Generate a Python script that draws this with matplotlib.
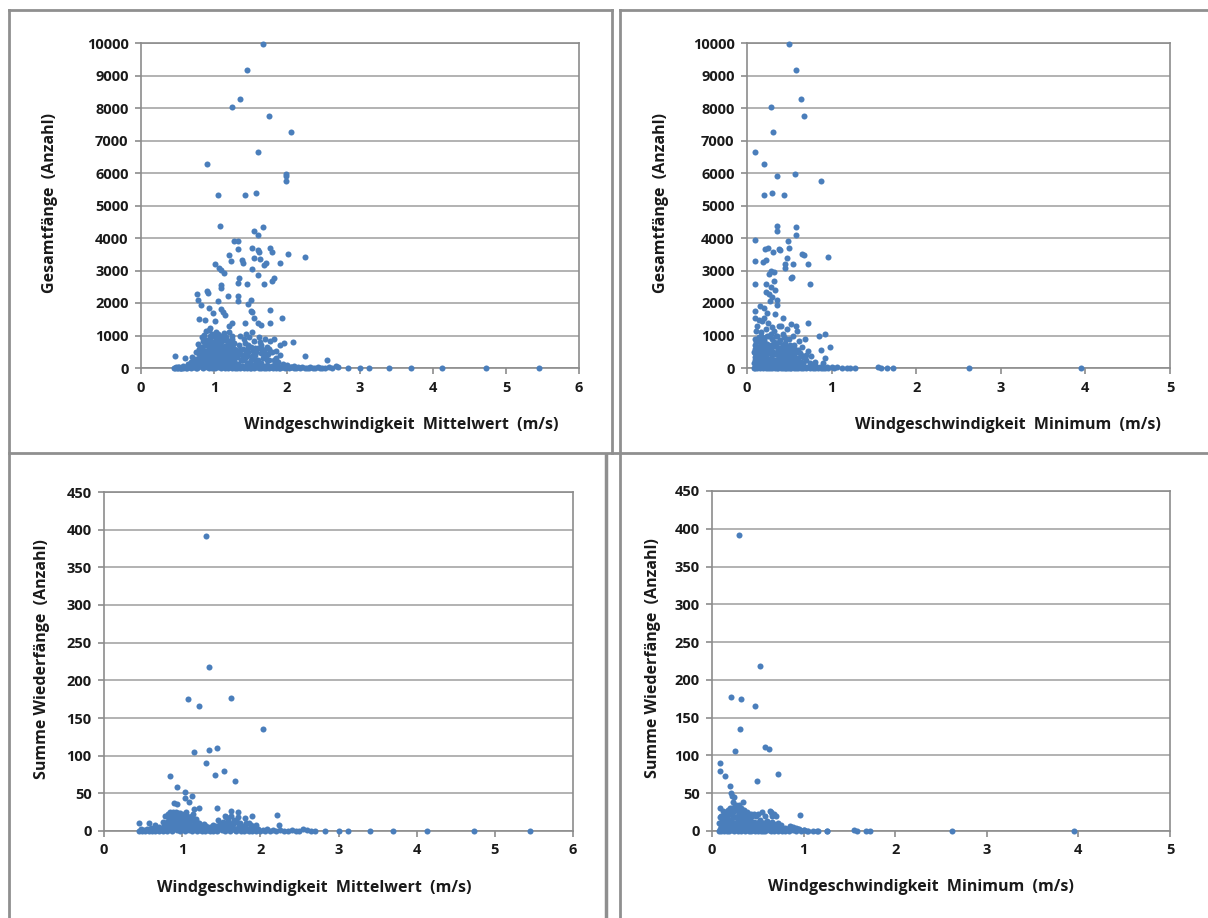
import matplotlib
matplotlib.use("Agg")
import matplotlib.pyplot as plt
from matplotlib.lines import Line2D

plt.rcParams['font.family'] = ['Open Sans', 'DejaVu Sans']
plt.rcParams['font.weight'] = 'bold'

# --- data (x, y) ---
# mean wind speed vs. total catches
mean_vs_total = [
    (1.67, 9980), (1.45, 9180), (1.35, 8280), (1.25, 8020), (1.75, 7760), (2.05, 7250),
    (1.60, 6660), (0.90, 6270), (1.98, 5980), (1.99, 5900), (1.99, 5750), (1.05, 5320),
    (1.43, 5320), (1.58, 5380), (1.08, 4380), (1.67, 4330), (1.55, 4220), (1.60, 4080),
    (1.27, 3910), (1.33, 3920), (1.33, 3650), (1.52, 3700), (1.60, 3640), (1.61, 3560),
    (1.77, 3680), (1.79, 3560), (2.02, 3520), (2.25, 3420), (1.20, 3480), (1.38, 3320),
    (1.40, 3230), (1.55, 3380), (1.63, 3350), (1.68, 3170), (1.71, 3230), (1.90, 3220),
    (1.02, 3200), (1.07, 3080), (1.10, 3020), (1.14, 2920), (1.52, 3060), (1.23, 3280),
    (1.34, 2760), (1.33, 2620), (1.45, 2580), (1.09, 2550), (1.10, 2450), (1.60, 2850),
    (1.68, 2580), (1.80, 2680), (1.82, 2760), (0.77, 2270), (0.78, 2080), (0.91, 2380),
    (0.92, 2320), (0.82, 1930), (1.05, 2060), (1.19, 2230), (1.33, 2230), (1.33, 2060),
    (1.46, 1960), (1.50, 2100), (1.09, 1820), (1.13, 1720), (1.15, 1640), (0.93, 1850),
    (0.98, 1680), (1.50, 1760), (1.52, 1710), (1.55, 1550), (1.60, 1370), (1.77, 1780),
    (1.77, 1380), (1.93, 1550), (0.80, 1520), (0.87, 1480), (1.25, 1380), (1.02, 1460),
    (1.42, 1380), (1.65, 1310), (1.20, 1300), (0.95, 1240),
    (0.47, 370), (0.48, 20), (0.50, 10), (0.52, 40), (0.55, 5), (0.58, 60), (0.60, 310),
    (0.62, 30), (0.64, 120), (0.66, 80), (0.68, 200), (0.70, 350), (0.72, 150), (0.74, 60),
    (0.75, 480), (0.76, 280), (0.78, 750), (0.80, 600), (0.81, 180), (0.83, 950), (0.84, 420),
    (0.86, 1020), (0.87, 700), (0.88, 300), (0.89, 1150), (0.90, 850), (0.91, 520), (0.92, 100),
    (0.93, 1180), (0.94, 650), (0.95, 880), (0.96, 400), (0.97, 1050), (0.98, 760), (0.99, 220),
    (1.00, 560), (1.00, 980), (1.01, 340), (1.02, 820), (1.03, 1100), (1.04, 620), (1.05, 450),
    (1.06, 900), (1.07, 150), (1.08, 720), (1.09, 1000), (1.10, 380), (1.11, 560), (1.12, 860),
    (1.13, 250), (1.14, 1080), (1.15, 680), (1.16, 470), (1.17, 950), (1.18, 130), (1.19, 780),
    (1.20, 560), (1.21, 1100), (1.22, 320), (1.23, 640), (1.24, 900), (1.25, 200), (1.26, 470),
    (1.27, 780), (1.28, 90), (1.30, 560), (1.31, 350), (1.33, 120), (1.34, 700), (1.35, 420),
    (1.36, 980), (1.37, 240), (1.38, 60), (1.40, 600), (1.41, 880), (1.42, 320), (1.44, 1050),
    (1.45, 150), (1.46, 720), (1.47, 480), (1.48, 950), (1.50, 250), (1.51, 660), (1.52, 1100),
    (1.53, 80), (1.55, 840), (1.56, 400), (1.58, 180), (1.60, 620), (1.62, 960), (1.63, 60),
    (1.65, 700), (1.67, 300), (1.68, 520), (1.70, 880), (1.72, 100), (1.73, 640), (1.75, 260),
    (1.77, 820), (1.78, 40), (1.80, 480), (1.82, 880), (1.84, 150), (1.85, 520), (1.87, 60),
    (1.90, 720), (1.93, 30), (1.96, 760), (2.00, 80), (2.02, 40), (2.05, 20), (2.08, 790),
    (2.10, 60), (2.15, 30), (2.20, 20), (2.25, 380), (2.28, 10), (2.32, 30), (2.38, 10),
    (2.42, 20), (2.48, 5), (2.55, 250), (2.58, 40), (2.62, 10), (2.67, 60), (2.70, 20),
    (2.83, 0), (3.00, 0), (3.12, 0), (3.40, 0), (3.70, 0), (4.13, 0), (4.73, 0), (5.45, 0),
    (0.45, 0), (0.47, 10), (0.49, 0), (0.51, 30), (0.53, 0), (0.55, 15), (0.57, 0), (0.59, 40),
    (0.61, 5), (0.63, 0), (0.65, 20), (0.67, 60), (0.69, 0), (0.71, 30), (0.73, 90), (0.75, 10),
    (0.77, 0), (0.79, 50), (0.81, 120), (0.83, 20), (0.85, 0), (0.87, 70), (0.89, 140), (0.91, 30),
    (0.93, 0), (0.95, 90), (0.97, 10), (0.99, 60), (1.01, 0), (1.03, 130), (1.05, 20), (1.07, 80),
    (1.09, 0), (1.11, 40), (1.13, 110), (1.15, 10), (1.17, 60), (1.19, 0), (1.21, 30), (1.23, 90),
    (1.25, 0), (1.27, 50), (1.29, 10), (1.31, 0), (1.33, 40), (1.35, 0), (1.37, 20), (1.39, 70),
    (1.41, 0), (1.43, 30), (1.45, 0), (1.47, 60), (1.49, 10), (1.51, 0), (1.53, 40), (1.55, 0),
    (1.57, 20), (1.59, 80), (1.61, 0), (1.63, 30), (1.65, 0), (1.67, 50), (1.69, 10), (1.71, 0),
    (1.73, 30), (1.75, 0), (1.77, 20), (1.79, 60), (1.81, 0), (1.83, 20), (1.85, 0), (1.87, 30),
    (1.89, 0), (1.91, 10), (1.94, 40), (1.97, 0), (2.00, 20), (2.03, 0), (2.06, 30), (2.09, 0),
    (2.12, 10), (2.18, 0), (2.24, 10), (2.30, 0), (2.35, 5), (2.45, 0), (2.52, 5),
    (0.82, 350), (0.84, 650), (0.86, 250), (0.88, 520), (0.90, 180), (0.92, 780), (0.94, 330),
    (0.96, 560), (0.98, 120), (1.00, 410), (1.02, 250), (1.04, 880), (1.06, 300), (1.08, 520),
    (1.10, 200), (1.12, 640), (1.14, 380), (1.16, 260), (1.18, 560), (1.20, 180), (1.22, 440),
    (1.24, 700), (1.26, 330), (1.28, 600), (0.85, 820), (0.95, 970), (1.05, 760), (1.15, 850),
    (1.25, 1000), (0.91, 450), (1.01, 680), (1.11, 150), (1.21, 820), (0.87, 160), (0.97, 250),
    (1.07, 430), (1.17, 320), (1.27, 220), (1.35, 560), (1.45, 380), (1.55, 300), (1.65, 450),
    (1.75, 580), (1.85, 320), (1.43, 760), (1.53, 520), (1.63, 800), (1.71, 380),
    (0.78, 100), (0.80, 300), (0.82, 550), (0.84, 200), (0.86, 400), (0.88, 700), (0.90, 50),
    (0.92, 280), (0.94, 480), (0.96, 150), (0.98, 380), (1.00, 700), (1.02, 100), (1.04, 300),
    (1.06, 580), (1.08, 250), (1.10, 800), (1.12, 420), (1.14, 120), (1.16, 620), (1.18, 350),
    (1.20, 720), (1.22, 50), (1.24, 380), (1.26, 620), (1.28, 300), (1.30, 120), (1.32, 480),
    (0.83, 80), (0.89, 420), (0.93, 620), (0.99, 480), (1.03, 200), (1.09, 380), (1.13, 520),
    (1.19, 300), (1.23, 150), (1.29, 420), (0.86, 900), (0.96, 780), (1.06, 1050), (1.16, 380),
    (0.79, 420), (0.76, 180), (0.72, 260), (1.40, 250), (1.44, 500), (1.48, 150), (1.52, 380),
    (1.56, 620), (1.60, 250), (1.64, 150), (1.68, 380), (1.72, 260), (1.38, 400), (1.46, 620),
    (1.58, 480), (1.66, 580), (1.74, 420), (1.82, 250), (1.88, 180), (1.95, 120), (1.90, 400),
]

# minimum wind speed vs. total catches
min_vs_total = [
    (0.50, 9980), (0.58, 9180), (0.64, 8280), (0.28, 8020), (0.67, 7760), (0.31, 7250),
    (0.09, 6660), (0.20, 6270), (0.35, 5900), (0.57, 5980), (0.87, 5750), (0.20, 5320),
    (0.29, 5380), (0.44, 5320), (0.36, 4380), (0.36, 4220), (0.58, 4330), (0.58, 4080),
    (0.09, 3930), (0.48, 3910), (0.25, 3680), (0.21, 3670), (0.38, 3650), (0.39, 3620),
    (0.50, 3700), (0.31, 3560), (0.65, 3510), (0.67, 3480), (0.96, 3420), (0.10, 3300),
    (0.22, 3330), (0.19, 3250), (0.47, 3380), (0.45, 3200), (0.54, 3200), (0.45, 3080),
    (0.72, 3210), (0.28, 3000), (0.32, 2950), (0.26, 2880), (0.53, 2800), (0.52, 2760),
    (0.32, 2680), (0.23, 2600), (0.09, 2580), (0.75, 2580), (0.28, 2480), (0.33, 2400),
    (0.22, 2350), (0.26, 2280), (0.30, 2200), (0.36, 2100), (0.27, 2050), (0.15, 1920),
    (0.20, 1850), (0.35, 1950), (0.10, 1750), (0.24, 1700), (0.33, 1650), (0.42, 1550),
    (0.09, 1550), (0.14, 1480), (0.72, 1400), (0.52, 1350), (0.58, 1300), (0.40, 1280),
    (0.85, 1000), (0.92, 1050), (0.98, 640), (0.88, 560), (0.92, 300), (0.90, 150), (0.80, 100),
    (0.12, 1300), (0.18, 1450), (0.25, 1380), (0.30, 1250), (0.11, 1150), (0.16, 1000),
    (0.38, 1300), (0.47, 1200), (0.20, 1550),
    (0.09, 250), (0.09, 450), (0.10, 600), (0.10, 350), (0.11, 800), (0.12, 200), (0.13, 500),
    (0.14, 950), (0.15, 300), (0.16, 700), (0.17, 1100), (0.18, 450), (0.19, 250), (0.20, 850),
    (0.21, 600), (0.22, 1200), (0.23, 350), (0.24, 750), (0.25, 200), (0.26, 1000), (0.27, 520),
    (0.28, 300), (0.29, 880), (0.30, 650), (0.31, 180), (0.32, 1150), (0.33, 420), (0.34, 760),
    (0.35, 250), (0.36, 980), (0.37, 560), (0.38, 320), (0.39, 860), (0.40, 200), (0.41, 640),
    (0.42, 1050), (0.43, 400), (0.44, 260), (0.45, 780), (0.46, 900), (0.47, 300), (0.48, 560),
    (0.49, 180), (0.50, 880), (0.51, 420), (0.52, 650), (0.53, 250), (0.54, 1000), (0.55, 350),
    (0.56, 720), (0.57, 180), (0.58, 560), (0.59, 1150), (0.60, 300), (0.62, 820), (0.63, 450),
    (0.64, 200), (0.65, 650), (0.66, 350), (0.68, 900), (0.70, 250), (0.72, 520), (0.74, 150),
    (0.76, 380), (0.78, 80), (0.80, 200),
    (0.08, 0), (0.09, 40), (0.10, 10), (0.11, 80), (0.12, 0), (0.13, 30), (0.14, 120), (0.15, 0),
    (0.16, 60), (0.17, 20), (0.18, 150), (0.19, 0), (0.20, 50), (0.21, 100), (0.22, 0), (0.23, 30),
    (0.24, 80), (0.25, 10), (0.26, 140), (0.27, 0), (0.28, 40), (0.29, 90), (0.30, 0), (0.31, 20),
    (0.32, 110), (0.33, 0), (0.34, 50), (0.35, 10), (0.36, 130), (0.37, 0), (0.38, 60), (0.39, 20),
    (0.40, 0), (0.41, 90), (0.42, 30), (0.43, 0), (0.44, 70), (0.45, 10), (0.46, 0), (0.47, 120),
    (0.48, 40), (0.49, 0), (0.50, 60), (0.51, 10), (0.52, 0), (0.53, 80), (0.54, 20), (0.55, 0),
    (0.56, 50), (0.57, 100), (0.58, 0), (0.59, 30), (0.60, 0), (0.62, 60), (0.64, 10), (0.66, 0),
    (0.68, 40), (0.70, 0), (0.72, 20), (0.74, 0), (0.76, 30), (0.78, 0), (0.80, 10), (0.82, 40),
    (0.84, 0), (0.86, 20), (0.88, 0), (0.90, 10), (0.92, 0), (0.94, 20), (0.96, 0), (1.00, 40),
    (1.03, 10), (1.06, 30), (1.12, 10), (1.18, 0), (1.22, 10), (1.28, 0),
    (1.55, 40), (1.58, 10), (1.65, 10), (1.72, 10), (2.62, 0), (3.95, 0),
    (0.08, 150), (0.09, 700), (0.10, 900), (0.11, 450), (0.12, 650), (0.13, 250), (0.14, 400),
    (0.15, 800), (0.16, 150), (0.17, 550), (0.18, 300), (0.19, 700), (0.20, 400), (0.21, 200),
    (0.22, 750), (0.23, 550), (0.24, 150), (0.25, 450), (0.26, 650), (0.27, 250), (0.28, 700),
    (0.29, 400), (0.30, 150), (0.31, 500), (0.32, 800), (0.33, 250), (0.34, 450), (0.35, 650),
    (0.36, 150), (0.37, 400), (0.38, 800), (0.39, 250), (0.40, 500), (0.41, 300), (0.42, 700),
    (0.43, 150), (0.44, 550), (0.45, 400), (0.46, 250), (0.47, 650), (0.48, 150), (0.49, 450),
    (0.50, 300), (0.51, 700), (0.52, 200), (0.53, 500), (0.54, 150), (0.55, 600), (0.56, 300),
    (0.57, 450), (0.58, 200), (0.60, 550), (0.62, 150), (0.64, 400), (0.66, 150), (0.70, 400),
    (0.08, 500), (0.12, 900), (0.18, 950), (0.24, 1000), (0.28, 1050), (0.34, 1000), (0.44, 950),
]

# mean wind speed vs. recaptures
mean_vs_recap = [
    (1.30, 392), (1.34, 218), (1.07, 175), (1.63, 177), (1.22, 166), (2.04, 135),
    (1.45, 110), (1.34, 107), (1.15, 105), (1.30, 90), (1.54, 80), (1.42, 75), (0.85, 73),
    (1.68, 66), (0.94, 59), (1.04, 52), (1.13, 47), (1.04, 44), (1.09, 39), (0.90, 37),
    (0.93, 36), (1.45, 30), (1.22, 31), (1.15, 29), (2.21, 21), (1.62, 27), (1.71, 25),
    (1.89, 20), (1.80, 17), (1.55, 20), (0.82, 22), (0.88, 25), (0.95, 24), (1.00, 20),
    (2.24, 8), (0.45, 10), (0.58, 10),
    (2.55, 2), (2.60, 1), (2.65, 0), (2.70, 0), (2.83, 0), (3.00, 0), (3.12, 0), (3.40, 0),
    (3.70, 0), (4.13, 0), (4.73, 0), (5.45, 0),
    (0.45, 0), (0.47, 2), (0.49, 0), (0.51, 1), (0.53, 0), (0.55, 3), (0.57, 0), (0.59, 1),
    (0.61, 0), (0.63, 2), (0.65, 0), (0.67, 4), (0.69, 1), (0.71, 0), (0.73, 3), (0.75, 0),
    (0.77, 6), (0.79, 1), (0.81, 0), (0.83, 8), (0.85, 2), (0.87, 0), (0.89, 5), (0.91, 12),
    (0.93, 1), (0.95, 7), (0.97, 0), (0.99, 10), (1.01, 3), (1.03, 0), (1.05, 6), (1.07, 14),
    (1.09, 1), (1.11, 4), (1.13, 0), (1.15, 8), (1.17, 2), (1.19, 0), (1.21, 5), (1.23, 1),
    (1.25, 0), (1.27, 3), (1.29, 0), (1.31, 6), (1.33, 1), (1.35, 0), (1.37, 4), (1.39, 0),
    (1.41, 2), (1.43, 7), (1.45, 0), (1.47, 5), (1.49, 10), (1.51, 1), (1.53, 6), (1.55, 0),
    (1.57, 3), (1.59, 12), (1.61, 0), (1.63, 5), (1.65, 9), (1.67, 1), (1.69, 0), (1.71, 4),
    (1.73, 8), (1.75, 0), (1.77, 3), (1.79, 0), (1.81, 6), (1.83, 1), (1.85, 0), (1.87, 4),
    (1.89, 0), (1.91, 2), (1.94, 0), (1.97, 3), (2.00, 0), (2.03, 1), (2.06, 0), (2.09, 2),
    (2.12, 0), (2.16, 1), (2.20, 0), (2.25, 1), (2.30, 0), (2.35, 0), (2.40, 1), (2.45, 0),
    (2.50, 0),
    (0.82, 18), (0.84, 22), (0.86, 14), (0.88, 20), (0.90, 16), (0.92, 25), (0.94, 18),
    (0.96, 21), (0.98, 15), (1.00, 19), (1.02, 12), (1.04, 17), (1.06, 20), (1.08, 11),
    (1.10, 18), (1.12, 14), (1.14, 22), (1.16, 9), (1.18, 16), (0.87, 10), (0.93, 9),
    (0.97, 13), (1.03, 8), (1.09, 13), (1.13, 7), (0.80, 12), (1.20, 10), (1.24, 6),
    (1.28, 9), (1.50, 9), (1.52, 12), (1.55, 8), (1.58, 14), (1.60, 10), (1.65, 11),
    (1.70, 12), (1.75, 7), (1.85, 10), (1.90, 5), (1.95, 8),
    (0.76, 12), (0.78, 20), (0.80, 5), (0.82, 10), (0.84, 4), (0.86, 8), (0.88, 12), (0.90, 6),
    (0.92, 18), (0.94, 10), (0.96, 5), (0.98, 20), (1.00, 8), (1.02, 22), (1.04, 9), (1.06, 4),
    (1.08, 16), (1.10, 8), (1.12, 20), (1.14, 5), (1.16, 14), (1.18, 6), (1.20, 3), (1.22, 10),
    (1.26, 4), (0.85, 25), (0.91, 22), (0.97, 24), (1.05, 25), (0.89, 17), (1.46, 15),
    (1.48, 4), (1.52, 6), (1.54, 11), (1.56, 18), (1.60, 5), (1.62, 20), (1.64, 7), (1.66, 15),
    (1.68, 3), (1.72, 18), (1.74, 11), (1.78, 6), (1.82, 10), (1.88, 8), (1.92, 3), (1.35, 5),
    (1.40, 8), (1.30, 4), (0.70, 5), (0.65, 8), (0.60, 4),
]

# minimum wind speed vs. recaptures
min_vs_recap = [
    (0.29, 392), (0.52, 218), (0.21, 178), (0.32, 175), (0.47, 166), (0.31, 135),
    (0.58, 111), (0.62, 109), (0.25, 106), (0.09, 90), (0.09, 80), (0.14, 73), (0.72, 75),
    (0.49, 66), (0.20, 59), (0.21, 50), (0.22, 46), (0.24, 45), (0.09, 30), (0.34, 38),
    (0.30, 35), (0.96, 21), (0.63, 26), (0.55, 25), (0.46, 22), (0.70, 20), (0.40, 22),
    (0.15, 25),
    (0.90, 3), (0.95, 2), (1.00, 1), (1.05, 0), (1.15, 0), (1.25, 0), (1.55, 1), (1.58, 0),
    (1.68, 0), (1.72, 0), (2.62, 0), (3.95, 0),
    (0.08, 0), (0.09, 3), (0.10, 0), (0.11, 6), (0.12, 1), (0.13, 0), (0.14, 9), (0.15, 2),
    (0.16, 0), (0.17, 12), (0.18, 4), (0.19, 0), (0.20, 8), (0.21, 15), (0.22, 1), (0.23, 5),
    (0.24, 0), (0.25, 11), (0.26, 3), (0.27, 18), (0.28, 0), (0.29, 7), (0.30, 13), (0.31, 2),
    (0.32, 0), (0.33, 9), (0.34, 16), (0.35, 4), (0.36, 0), (0.37, 10), (0.38, 2), (0.39, 7),
    (0.40, 0), (0.41, 12), (0.42, 3), (0.43, 0), (0.44, 8), (0.45, 1), (0.46, 5), (0.47, 0),
    (0.48, 10), (0.49, 2), (0.50, 0), (0.51, 6), (0.52, 1), (0.53, 0), (0.54, 4), (0.55, 9),
    (0.56, 0), (0.57, 3), (0.58, 0), (0.60, 6), (0.62, 1), (0.64, 0), (0.66, 4), (0.68, 0),
    (0.70, 2), (0.72, 0), (0.74, 3), (0.76, 0), (0.78, 1), (0.80, 0), (0.82, 2), (0.84, 0),
    (0.86, 5), (0.88, 1), (0.90, 3), (0.92, 0), (0.94, 2), (0.97, 0), (1.00, 1), (1.04, 0),
    (1.10, 0), (1.16, 0), (1.25, 0),
    (0.10, 20), (0.12, 15), (0.14, 24), (0.16, 18), (0.18, 28), (0.20, 22), (0.22, 30),
    (0.24, 26), (0.26, 35), (0.28, 20), (0.30, 25), (0.32, 18), (0.34, 22), (0.36, 14),
    (0.38, 20), (0.40, 17), (0.42, 21), (0.44, 12), (0.48, 20), (0.52, 15), (0.56, 10),
    (0.60, 13), (0.65, 22), (0.68, 9), (0.72, 11), (0.27, 32), (0.23, 38), (0.19, 24),
    (0.15, 12), (0.31, 12), (0.35, 28), (0.88, 5), (0.92, 4),
    (0.08, 10), (0.09, 18), (0.10, 6), (0.11, 14), (0.12, 8), (0.13, 22), (0.14, 4), (0.15, 18),
    (0.16, 10), (0.17, 6), (0.18, 16), (0.19, 10), (0.20, 4), (0.21, 24), (0.22, 12), (0.23, 20),
    (0.24, 8), (0.25, 18), (0.26, 10), (0.27, 5), (0.28, 14), (0.29, 24), (0.30, 6), (0.31, 20),
    (0.32, 10), (0.33, 4), (0.34, 12), (0.35, 18), (0.36, 8), (0.37, 22), (0.38, 12), (0.39, 4),
    (0.40, 10), (0.41, 5), (0.42, 14), (0.43, 8), (0.44, 20), (0.45, 6), (0.46, 12), (0.47, 4),
    (0.49, 8), (0.51, 12), (0.53, 6), (0.55, 3), (0.57, 10), (0.59, 5), (0.62, 8), (0.66, 12),
    (0.70, 5), (0.75, 8), (0.80, 4), (0.85, 6), (0.28, 28), (0.32, 30), (0.20, 30), (0.25, 33),
    (0.38, 25), (0.12, 26), (0.43, 22), (0.50, 22), (0.58, 20), (0.66, 20), (0.68, 22), (0.64, 25),
]

xlabel_mean = "Windgeschwindigkeit  Mittelwert  (m/s)"
xlabel_min = "Windgeschwindigkeit  Minimum  (m/s)"
ylabel_total = "Gesamtfänge  (Anzahl)"
ylabel_recap = "Summe Wiederfänge  (Anzahl)"

W, H = 1208, 918
DOT = '#4a7ebb'
GRID = '#a6a6a6'
FRAME = '#8c8c8c'
TXT = '#1a1a1a'

fig = plt.figure(figsize=(W / 100, H / 100), dpi=100)


def px_axes(x0, y0, x1, y1):
    # pixel box (top-left origin) -> figure fraction axes
    return fig.add_axes([x0 / W, 1 - y1 / H, (x1 - x0) / W, (y1 - y0) / H])


def draw(ax, pts, xmax, ymax, ystep, xlab, ylab, xlab_pos, ylab_pos):
    xs = [p[0] for p in pts]
    ys = [p[1] for p in pts]
    ax.scatter(xs, ys, s=19, color=DOT, linewidths=0, zorder=3, clip_on=False)
    ax.set_xlim(0, xmax)
    ax.set_ylim(0, ymax)
    ax.set_xticks(range(0, xmax + 1))
    ax.set_yticks(range(0, ymax + 1, ystep))
    ax.yaxis.grid(True, color=GRID, lw=1.2)
    ax.set_axisbelow(True)
    for sp in ax.spines.values():
        sp.set_color(FRAME)
        sp.set_linewidth(1.2)
    ax.tick_params(axis='both', length=4, width=1.2, color=FRAME,
                   labelsize=10.5, labelcolor=TXT, pad=5)
    for lab in ax.get_xticklabels() + ax.get_yticklabels():
        lab.set_fontweight('bold')
    fig.text(xlab_pos[0] / W, 1 - xlab_pos[1] / H, xlab, ha='center', va='center',
             fontsize=11.5, fontweight='bold', color=TXT)
    fig.text(ylab_pos[0] / W, 1 - ylab_pos[1] / H, ylab, ha='center', va='center',
             rotation=90, fontsize=11.5, fontweight='bold', color=TXT)


ax1 = px_axes(141, 43, 579, 368)
draw(ax1, mean_vs_total, 6, 10000, 1000, xlabel_mean, ylabel_total, (401, 425), (50, 203))

ax2 = px_axes(747, 43, 1170, 368)
draw(ax2, min_vs_total, 5, 10000, 1000, xlabel_min, ylabel_total, (1008, 425), (661, 203))

ax3 = px_axes(104, 492, 573, 831)
draw(ax3, mean_vs_recap, 6, 450, 50, xlabel_mean, ylabel_recap, (314, 888), (42, 659))

ax4 = px_axes(712, 491, 1170, 831)
draw(ax4, min_vs_recap, 5, 450, 50, xlabel_min, ylabel_recap, (921, 887), (653, 658))


# panel borders
def fline(x0, y0, x1, y1, lw=2.0, c='#8f8f8f'):
    fig.add_artist(Line2D([x0 / W, x1 / W], [1 - y0 / H, 1 - y1 / H],
                          color=c, lw=lw, transform=fig.transFigure))


fline(9, 10, 612, 10)
fline(9, 10, 9, 918)
fline(612, 10, 612, 453)
fline(620, 10, 1208, 10)
fline(620, 10, 620, 918)
fline(9, 453, 1208, 453)
fline(606, 455, 606, 918, lw=2.5)

fig.savefig("out.png", dpi=100)
